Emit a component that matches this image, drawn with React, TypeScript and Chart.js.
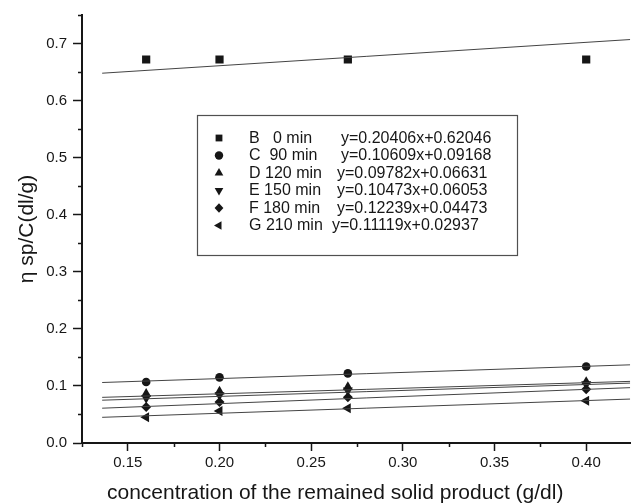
import React, { useEffect, useRef } from 'react';
import { Chart, registerables } from 'chart.js';

Chart.register(...registerables);

// ---------- data ----------
const concentrations = [0.16, 0.2, 0.27, 0.4];
const seriesB = [0.672, 0.672, 0.672, 0.672];
const seriesC = [0.107, 0.115, 0.122, 0.134];
const seriesD = [0.086, 0.09, 0.098, 0.107];
const seriesE = [0.079, 0.084, 0.092, 0.103];
const seriesF = [0.063, 0.072, 0.08, 0.094];
const seriesG = [0.045, 0.056, 0.061, 0.074];

const fitRange = [0.136, 0.424];
const fitB = [0.648, 0.707];
const fitC = [0.106, 0.137];
const fitD = [0.08, 0.108];
const fitE = [0.075, 0.105];
const fitF = [0.061, 0.097];
const fitG = [0.045, 0.077];

const seriesLabels = ['B   0 min', 'C  90 min', 'D 120 min', 'E 150 min', 'F 180 min', 'G 210 min'];
const equations = [
  'y=0.20406x+0.62046',
  'y=0.10609x+0.09168',
  'y=0.09782x+0.06631',
  'y=0.10473x+0.06053',
  'y=0.12239x+0.04473',
  'y=0.11119x+0.02937',
];

const xTickValues = [0.15, 0.2, 0.25, 0.3, 0.35, 0.4];
const xMinorTickValues = [0.125, 0.175, 0.225, 0.275, 0.325, 0.375];
const yTickValues = [0, 0.1, 0.2, 0.3, 0.4, 0.5, 0.6, 0.7];
const yMinorTickValues = [0.05, 0.15, 0.25, 0.35, 0.45, 0.55, 0.65, 0.75];

const xTitle = 'concentration of the remained solid product (g/dl)';
const yTitle = 'η sp/C(dl/g)';

// ---------- styles ----------
const FONT = '"Liberation Sans", Arial, Helvetica, sans-serif';
const INK = '#161616';
const LINE = '#444444';

const allSeries = [seriesB, seriesC, seriesD, seriesE, seriesF, seriesG];
const allFits = [fitB, fitC, fitD, fitE, fitF, fitG];
const markerStyles = [
  { style: 'rect', radius: 5.8, rotation: 0 },
  { style: 'circle', radius: 4.3, rotation: 0 },
  { style: 'triangle', radius: 5.8, rotation: 0 },
  { style: 'triangle', radius: 5.8, rotation: 180 },
  { style: 'rectRot', radius: 5, rotation: 0 },
  { style: 'triangle', radius: 5.8, rotation: -90 },
];

function drawLegendMarker(ctx: CanvasRenderingContext2D, kind: number, x: number, y: number) {
  ctx.beginPath();
  const r = 5;
  if (kind === 0) {
    ctx.rect(x - 3.4, y - 3.4, 6.8, 6.8);
  } else if (kind === 1) {
    ctx.arc(x, y, 4.2, 0, Math.PI * 2);
  } else if (kind === 4) {
    ctx.moveTo(x, y - 4.8);
    ctx.lineTo(x + 4.4, y);
    ctx.lineTo(x, y + 4.8);
    ctx.lineTo(x - 4.4, y);
  } else {
    const rot = kind === 2 ? 0 : kind === 3 ? Math.PI : -Math.PI / 2;
    for (let i = 0; i < 3; i++) {
      const a = rot + (i * 2 * Math.PI) / 3;
      const px = x + Math.sin(a) * r;
      const py = y - Math.cos(a) * r;
      if (i === 0) ctx.moveTo(px, py);
      else ctx.lineTo(px, py);
    }
  }
  ctx.closePath();
  ctx.fill();
}

const decorPlugin = {
  id: 'decor',
  afterDraw(chart: any) {
    const ctx: CanvasRenderingContext2D = chart.ctx;
    const ca = chart.chartArea;
    const xs = chart.scales.x;
    const ys = chart.scales.y;
    ctx.save();
    // minor ticks
    ctx.strokeStyle = INK;
    ctx.lineWidth = 1.5;
    ctx.beginPath();
    xMinorTickValues.forEach((v) => {
      const px = Math.round(xs.getPixelForValue(v)) + 0.5;
      ctx.moveTo(px, ca.bottom);
      ctx.lineTo(px, ca.bottom + 4);
    });
    yMinorTickValues.forEach((v) => {
      const py = Math.round(ys.getPixelForValue(v)) + 0.5;
      ctx.moveTo(ca.left - 4, py);
      ctx.lineTo(ca.left, py);
    });
    ctx.stroke();

    // legend box
    const boxL = 197, boxT = 115, boxR = 517, boxB = 255;
    ctx.fillStyle = '#ffffff';
    ctx.fillRect(boxL, boxT, boxR - boxL, boxB - boxT);
    ctx.strokeStyle = '#505050';
    ctx.lineWidth = 1.2;
    ctx.strokeRect(boxL + 0.5, boxT + 0.5, boxR - boxL, boxB - boxT);

    const rowTop = 138;
    const rowGap = 17.5;
    const eqX = [341, 341, 337, 337, 337, 332];
    ctx.fillStyle = INK;
    ctx.font = `16px ${FONT}`;
    ctx.textBaseline = 'middle';
    ctx.textAlign = 'left';
    seriesLabels.forEach((lab, i) => {
      const y = rowTop + i * rowGap;
      drawLegendMarker(ctx, i, 219, y);
      ctx.fillText(lab, 249, y + 0.5);
      ctx.fillText(equations[i], eqX[i], y + 0.5);
    });

    // x-axis title
    ctx.font = `21px ${FONT}`;
    ctx.textAlign = 'left';
    ctx.textBaseline = 'middle';
    ctx.fillText(xTitle, 107, 493);
    ctx.restore();
  },
};

export default function App() {
  const canvasRef = useRef<HTMLCanvasElement | null>(null);

  useEffect(() => {
    const canvas = canvasRef.current;
    if (!canvas) return;
    const datasets: any[] = [];
    allFits.forEach((fit) => {
      datasets.push({
        data: [
          { x: fitRange[0], y: fit[0] },
          { x: fitRange[1], y: fit[1] },
        ],
        showLine: true,
        borderColor: LINE,
        borderWidth: 1,
        pointRadius: 0,
        fill: false,
      });
    });
    allSeries.forEach((s, i) => {
      const m = markerStyles[i];
      datasets.push({
        data: concentrations.map((c, j) => ({ x: c, y: s[j] })),
        showLine: false,
        pointStyle: m.style,
        pointRadius: m.radius,
        rotation: m.rotation,
        backgroundColor: INK,
        borderColor: INK,
        borderWidth: 0,
      });
    });

    const chart = new Chart(canvas, {
      type: 'scatter',
      data: { datasets },
      options: {
        responsive: false,
        animation: false,
        devicePixelRatio: 1,
        layout: { padding: { top: 14, right: 0, left: 0, bottom: 0 } },
        plugins: { legend: { display: false }, tooltip: { enabled: false } },
        scales: {
          x: {
            type: 'linear',
            min: 0.125,
            max: 0.424,
            afterBuildTicks: (scale: any) => {
              scale.ticks = xTickValues.map((v) => ({ value: v }));
            },
            afterFit: (scale: any) => {
              scale.height = 61;
            },
            ticks: {
              callback: (v: any) => Number(v).toFixed(2),
              font: { family: FONT, size: 15 },
              color: INK,
              padding: 3,
              maxRotation: 0,
              autoSkip: false,
            },
            grid: {
              drawOnChartArea: false,
              drawTicks: true,
              tickLength: 8,
              tickColor: INK,
              tickWidth: 1.5,
            },
            border: { display: true, color: INK, width: 2 },
          },
          y: {
            type: 'linear',
            min: 0,
            max: 0.75,
            afterBuildTicks: (scale: any) => {
              scale.ticks = yTickValues.map((v) => ({ value: v }));
            },
            afterFit: (scale: any) => {
              scale.width = 82;
            },
            ticks: {
              callback: (v: any) => Number(v).toFixed(1),
              font: { family: FONT, size: 15 },
              color: INK,
              padding: 6,
              autoSkip: false,
            },
            grid: {
              drawOnChartArea: false,
              drawTicks: true,
              tickLength: 9,
              tickColor: INK,
              tickWidth: 1.5,
            },
            border: { display: true, color: INK, width: 2 },
            title: {
              display: true,
              text: yTitle,
              color: INK,
              font: { family: FONT, size: 21 },
              padding: { top: 15, bottom: 0 },
            },
          },
        },
      },
      plugins: [decorPlugin],
    });
    return () => chart.destroy();
  }, []);

  return (
    <div
      style={{
        position: 'fixed',
        left: 0,
        top: 0,
        width: 636,
        height: 504,
        background: '#ffffff',
        overflow: 'hidden',
      }}
    >
      <canvas ref={canvasRef} width={636} height={504} style={{ display: 'block' }} />
    </div>
  );
}
